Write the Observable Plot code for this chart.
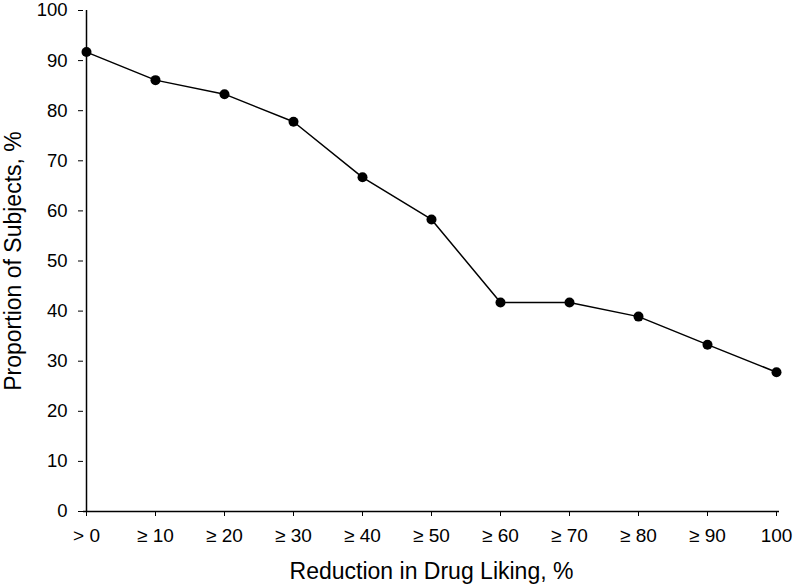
<!DOCTYPE html>
<html>
<head>
<meta charset="utf-8">
<script src="https://cdn.jsdelivr.net/npm/d3@7"></script>
<script src="https://cdn.jsdelivr.net/npm/@observablehq/plot@0.6"></script>
<style>
  html, body { margin: 0; padding: 0; background: #fff; }
  #chart { width: 798px; height: 588px; }
</style>
</head>
<body>
<div id="chart"></div>
<script>
const categories = ["> 0", "≥ 10", "≥ 20", "≥ 30", "≥ 40", "≥ 50", "≥ 60", "≥ 70", "≥ 80", "≥ 90", "100"];
const proportions = [91.7, 86.1, 83.3, 77.8, 66.7, 58.3, 41.7, 41.7, 38.9, 33.3, 27.8];
const yTicks = [0, 10, 20, 30, 40, 50, 60, 70, 80, 90, 100];
const xTitle = "Reduction in Drug Liking, %";
const yTitle = "Proportion of Subjects, %";

const data = categories.map((c, i) => ({category: c, value: proportions[i]}));
const font = "'Liberation Sans', Arial, Helvetica, sans-serif";

const chart = Plot.plot({
  width: 798,
  height: 588,
  marginLeft: 83,
  marginRight: 19,
  marginTop: 10,
  marginBottom: 77,
  style: {fontFamily: font, background: "#fff", color: "#000"},
  x: {type: "point", domain: categories, padding: 0},
  y: {domain: [0, 100]},
  marks: [
    Plot.axisY({ticks: yTicks, tickSize: 5, tickPadding: 11, fontSize: 18.5, label: null, stroke: "#000", fill: "#000"}),
    Plot.axisX({ticks: categories, tickSize: 5, tickPadding: 12, fontSize: 19, label: null, stroke: "#000", fill: "#000"}),
    Plot.ruleY([0], {stroke: "#000", strokeWidth: 1.5}),
    Plot.ruleX([categories[0]], {stroke: "#000", strokeWidth: 1.5}),
    Plot.line(data, {x: "category", y: "value", stroke: "#000", strokeWidth: 1.5}),
    Plot.dot(data, {x: "category", y: "value", r: 5, fill: "#000", stroke: "none"}),
    Plot.text([xTitle], {frameAnchor: "bottom", textAnchor: "middle", lineAnchor: "middle", dy: 60, fontSize: 23, fill: "#000"}),
    Plot.text([yTitle], {frameAnchor: "left", textAnchor: "middle", lineAnchor: "middle", dx: -70, rotate: -90, fontSize: 23, fill: "#000"})
  ]
});
document.getElementById("chart").appendChild(chart);
</script>
</body>
</html>
